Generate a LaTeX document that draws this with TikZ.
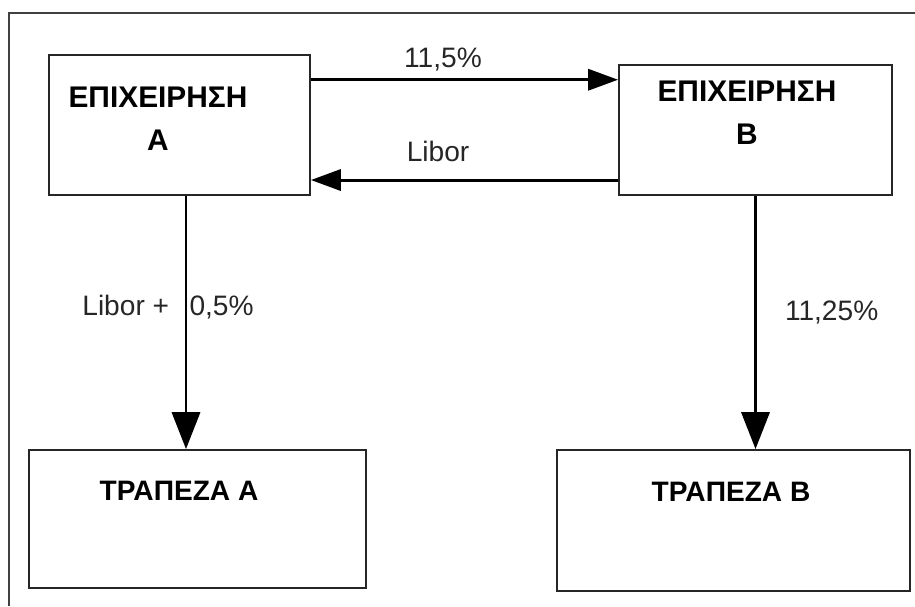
\documentclass[tikz,border=0pt]{standalone}
\usepackage{fontspec}
\setmainfont{Liberation Sans}
\usetikzlibrary{arrows.meta}

\begin{document}
\begin{tikzpicture}[x=0.02cm, y=-0.02cm,
        box/.style={draw=black!85, line width=1.1pt, inner sep=0pt},
        title/.style={font=\fontsize{17}{24.4}\selectfont\bfseries, align=center, inner sep=0pt},
        bank/.style={font=\fontsize{16}{19}\selectfont\bfseries, inner sep=0pt},
        rate/.style={font=\fontsize{16}{18}\selectfont, text=black!85, inner sep=0pt},
        flow/.style={line width=1.7pt, -{Triangle[length=17pt,width=12pt]}},
        drop/.style={line width=1.7pt, -{Triangle[length=21pt,width=16pt]}}]
            \useasboundingbox (0,0) rectangle (915,606);
            \draw[line width=1.1pt, black!75] (9,606) -- (9,13) -- (915,13);

            \node[box, minimum width=5.22cm, minimum height=2.8cm] (firmA) at (179.5,125) {};
            \node[box, minimum width=5.46cm, minimum height=2.6cm] (firmB) at (755.5,130) {};
            \node[box, minimum width=6.74cm, minimum height=2.76cm] (bankA) at (197.5,519) {};
            \node[box, minimum width=7.06cm, minimum height=2.82cm] (bankB) at (733.5,520.5) {};

            \node[title] (firmAname) at (158,119) {ΕΠΙΧΕΙΡΗΣΗ\\Α};
            \node[title] (firmBname) at (747,113) {ΕΠΙΧΕΙΡΗΣΗ\\Β};
            \node[bank] (bankAname) at (179,491) {ΤΡΑΠΕΖΑ Α};
            \node[bank] (bankBname) at (731,492) {ΤΡΑΠΕΖΑ Β};

            \draw[flow] (firmA.19) -- (firmA.19 -| firmB.west) node[rate, pos=0.43, above=4pt] {11,5\%};
            \draw[flow] (firmB.200) -- (firmB.200 -| firmA.east) node[rate, pos=0.586, above=9.5pt] {Libor};

            \coordinate (aOut) at ([xshift=0.13cm]firmA.south);
            \draw[drop] (aOut) -- (aOut |- bankA.north) node[rate, pos=0.44, xshift=-0.36cm] {Libor +\hspace{0.45em} 0,5\%};
            \draw[drop] (firmB.south) -- (firmB.south |- bankB.north) node[rate, pos=0.46, right=0.56cm] {11,25\%};
        \end{tikzpicture}
\end{document}
